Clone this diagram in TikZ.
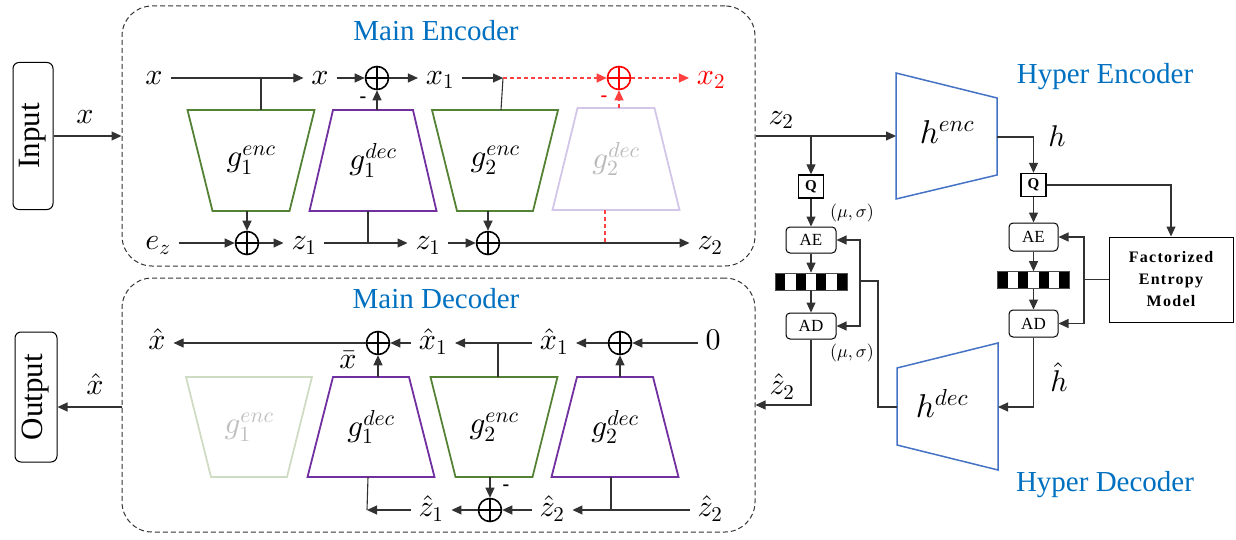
\documentclass[tikz,border=0pt]{standalone}
\usepackage{fontspec}
\setmainfont{Liberation Serif}
\DeclareFontShape{OML}{cmm}{m}{it}{<-> cmmi10}{}
\DeclareFontShape{OMS}{cmsy}{m}{n}{<-> cmsy10}{}
\DeclareFontShape{OT1}{cmr}{m}{n}{<-> cmr10}{}
\usetikzlibrary{arrows.meta}
\definecolor{cblue}{RGB}{0,112,192}
\definecolor{hblue}{RGB}{68,114,196}
\definecolor{cgreen}{RGB}{84,130,53}
\definecolor{cpurple}{RGB}{112,48,160}
\definecolor{lpurple}{RGB}{212,198,232}
\definecolor{lgreen}{RGB}{206,220,196}
\definecolor{lc}{RGB}{50,50,50}
\newcommand\mytrap[9]{%
  \draw[draw=#7, line width=1.8pt, line join=miter] ({#2-#5/2},#3) -- ({#2+#5/2},#3) -- ({#2+#6/2},#4) -- ({#2-#6/2},#4) -- cycle;
  \node[font=\fontsize{31}{34}\selectfont, text=#9, inner sep=0pt] (#1) at (#2,{(#3+#4)/2}) {#8};}
\begin{document}
\begin{tikzpicture}[x=1pt,y=-1pt,
  lbl/.style={font=\fontsize{30}{34}\selectfont, inner xsep=0pt, inner ysep=0pt, text height=22pt, text depth=9pt, outer xsep=8pt, outer ysep=0pt},
  ttl/.style={font=\fontsize{29}{32}\selectfont, text=cblue, inner sep=0pt},
  ln/.style={draw=lc, line width=1.1pt},
  arr/.style={ln, -{Triangle[length=10pt,width=9pt]}},
  rdash/.style={draw=red!75, line width=1.2pt, dash pattern=on 4pt off 3pt},
  rarr/.style={rdash, -{Triangle[length=10pt,width=9pt]}},
  opl/.style={circle, draw=#1, line width=1.6pt, minimum size=23pt, inner sep=0pt,
    path picture={\draw[#1, line width=1.6pt] (path picture bounding box.north) -- (path picture bounding box.south) (path picture bounding box.west) -- (path picture bounding box.east);}},
  opl/.default=black,
  box/.style={draw, line width=1pt, rounded corners=4pt, minimum width=50pt, minimum height=26pt, inner sep=0pt, font=\fontsize{17}{19}\selectfont},
  qbox/.style={draw, line width=1.4pt, minimum width=25pt, minimum height=23pt, inner sep=0pt, font=\bfseries\fontsize{15}{17}\selectfont},
  bar/.style={draw=black!70, line width=0.6pt, minimum width=72pt, minimum height=17pt, inner sep=0pt,
    path picture={\foreach \i in {0,2,4,6} \fill ([xshift={\i*72/7}]path picture bounding box.south west) rectangle ++(10.29pt,17pt);}},
  mainbox/.style={draw=black!80, line width=1pt, rounded corners=30pt, dash pattern=on 5pt off 3pt},
  mns/.style={font=\bfseries\fontsize{20}{20}\selectfont, inner sep=0pt},
  ms/.style={font=\fontsize{18}{21}\selectfont, inner sep=0pt},
]
\useasboundingbox (0,0) rectangle (1236,540);

% ---------- Input / Output ----------
\node[draw, line width=1pt, rounded corners=6pt, minimum width=40pt, minimum height=147pt, inner sep=0pt] (inp) at (33,136) {};
\node[rotate=90, font=\fontsize{31}{32}\selectfont, inner sep=0pt] (inpt) at (inp.center) {Input};
\node[draw, line width=1pt, rounded corners=6pt, minimum width=42pt, minimum height=130pt, inner sep=0pt] (out) at (36,397) {};
\node[rotate=90, font=\fontsize{31}{32}\selectfont, inner sep=0pt] (outt) at (out.center) {Output};

% ---------- Main boxes ----------
\node[mainbox, minimum width=633pt, minimum height=260pt] (enc) at (438.5,136) {};
\node[mainbox, minimum width=633pt, minimum height=254pt] (dec) at (438.5,405) {};
\node[ttl] (encT) at (436,31) {Main Encoder};
\node[ttl] (decT) at (436,299) {Main Decoder};

\draw[arr] (inp.east) -- (inp.east -| enc.west);
\node[lbl] (xin) at (85,117) {$x$};
\coordinate (decL) at (122,407);
\draw[arr] (decL) -- (decL -| out.east);
\node[lbl] (xout) at (95,388) {$\hat{x}$};

% ---------- Encoder ----------
\mytrap{E1}{251}{110}{211}{127}{77}{cgreen}{$g_1^{enc}$}{black}
\mytrap{E2}{373}{110}{211}{80}{127}{cpurple}{$g_1^{dec}$}{black}
\mytrap{E3}{495}{110}{211}{126}{76}{cgreen}{$g_2^{enc}$}{black}
\mytrap{E4}{616}{108}{210}{77}{127}{lpurple}{$g_2^{dec}$}{gray!55}
\coordinate (E1t) at (261,110); \coordinate (E1b) at (247,211);
\coordinate (E2t) at (377,110); \coordinate (E2b) at (368,211);
\coordinate (E3t) at (501,110); \coordinate (E3b) at (488,211);
\coordinate (E4t) at (619,108); \coordinate (E4b) at (605,210);

\node[lbl] (ex0) at (154,78) {$x$};
\node[lbl] (ex1) at (320,78) {$x$};
\node[opl] (ep1) at (377,78) {};
\node[lbl] (ex2) at (440,78) {$x_1$};
\coordinate (j1) at (503,78);
\node[opl=red] (ep2) at (619,78) {};
\node[lbl, text=red] (ex3) at (711,78) {$x_2$};
\node[mns] (mn1) at (363,100) {-};
\node[mns, text=red] (mn2) at (604,99) {-};

\node[lbl] (ez) at (158,243) {$e_z$};
\node[opl] (ep3) at (247,243) {};
\node[lbl] (ez1) at (304,243) {$z_1$};
\node[lbl] (ez2) at (428,243) {$z_1$};
\node[opl] (ep4) at (488,243) {};
\node[lbl] (ez3) at (710,243) {$z_2$};

\draw[arr] (ex0) -- (ex1);
\draw[ln] (E1t) -- (E1t |- ex0);
\draw[arr] (ex1) -- (ep1);
\draw[arr] (ep1) -- (ex2);
\draw[arr] (E2t) -- (ep1);
\draw[arr] (ex2) -- (j1);
\draw[ln] (E3t) -- (j1);
\draw[rarr] (j1) -- (ep2);
\draw[rarr] (ep2) -- (ex3);
\draw[rarr] (E4t) -- (ep2);
\draw[arr] (ez) -- (ep3);
\draw[arr] (E1b) -- (ep3);
\draw[arr] (ep3) -- (ez1);
\draw[arr] (ez1) -- (ez2);
\draw[ln] (E2b) -- (E2b |- ez1);
\draw[arr] (ez2) -- (ep4);
\draw[arr] (E3b) -- (ep4);
\draw[arr] (ep4) -- (ez3);
\draw[rdash] (E4b) -- (E4b |- ez3);

% ---------- Decoder ----------
\mytrap{D1}{249}{377}{477}{126}{76}{lgreen}{$g_1^{enc}$}{gray!50}
\mytrap{D2}{371}{377}{477}{76}{127}{cpurple}{$g_1^{dec}$}{black}
\mytrap{D3}{494}{377}{477}{127}{77}{cgreen}{$g_2^{enc}$}{black}
\mytrap{D4}{615}{377}{477}{76}{127}{cpurple}{$g_2^{dec}$}{black}
\coordinate (D2t) at (378,377); \coordinate (D2b) at (368,477);
\coordinate (D3t) at (498,377); \coordinate (D3b) at (490,477);
\coordinate (D4t) at (620,377); \coordinate (D4b) at (611,477);

\node[lbl] (dx0) at (157,343) {$\hat{x}$};
\node[opl] (dp1) at (378,343) {};
\node[lbl] (dx1) at (433,343) {$\hat{x}_1$};
\node[lbl] (dx2) at (554,343) {$\hat{x}_1$};
\node[opl] (dp2) at (620,343) {};
\node[lbl] (dzero) at (713,343) {$0$};
\node[lbl] (xbar) at (348,362) {$\bar{x}$};

\coordinate (c1) at (367,510);
\node[lbl] (dz1) at (431,510) {$\hat{z}_1$};
\node[opl] (dp3) at (490,510) {};
\node[lbl] (dz2) at (552,510) {$\hat{z}_2$};
\node[lbl] (dz3) at (710,510) {$\hat{z}_2$};
\node[mns] (mn3) at (506,488) {-};

\draw[arr] (dp1) -- (dx0);
\draw[arr] (dx1) -- (dp1);
\draw[arr] (D2t) -- (dp1);
\draw[arr] (dx2) -- (dx1);
\draw[ln] (D3t) -- (D3t |- dx1);
\draw[arr] (dp2) -- (dx2);
\draw[arr] (dzero) -- (dp2);
\draw[arr] (D4t) -- (dp2);
\draw[arr] (dz1) -- (c1);
\draw[ln] (D2b) -- (c1);
\draw[arr] (dp3) -- (dz1);
\draw[arr] (dz2) -- (dp3);
\draw[arr] (D3b) -- (dp3);
\draw[arr] (dz3) -- (dz2);
\draw[ln] (D4b) -- (D4b |- dz3);

% ---------- Hyper encoder / decoder ----------
\draw[draw=hblue, line width=1.5pt, line join=miter] (896,73) -- (997,98) -- (997,175) -- (896,199) -- cycle;
\node[font=\fontsize{33}{36}\selectfont, inner sep=0pt] (hE) at (947,132) {$h^{enc}$};
\coordinate (hEl) at (896,136); \coordinate (hEr) at (997,137);
\draw[draw=hblue, line width=1.5pt, line join=miter] (897,368) -- (998,343) -- (998,470) -- (897,445) -- cycle;
\node[font=\fontsize{33}{36}\selectfont, inner sep=0pt] (hD) at (942,403) {$h^{dec}$};
\coordinate (hDl) at (897,407); \coordinate (hDr) at (998,407);
\node[ttl] (heT) at (1105,77) {Hyper Encoder};
\node[ttl] (hdT) at (1105,485) {Hyper Decoder};

\node[qbox] (Q1) at (811,186.5) {Q};
\node[box] (AE1) at (811,240) {AE};
\node[bar] (bar1) at (811,281.5) {};
\node[box] (AD1) at (811,326) {AD};
\node[lbl] (zl) at (781,118) {$z_2$};
\node[ms] (ms1) at (852,213) {$(\mu,\sigma)$};
\node[ms] (ms2) at (852,353) {$(\mu,\sigma)$};
\node[lbl] (zh) at (782,388) {$\hat{z}_2$};

\coordinate (b1) at (811,136);
\draw[arr] (enc.east) -- (hEl);
\draw[arr] (b1) -- (Q1);
\draw[arr] (Q1) -- (AE1);
\draw[arr] (AE1) -- (bar1);
\draw[arr] (bar1) -- (AD1);
\draw[arr] (AD1.south) |- (dec.east);
\coordinate (m1) at (860,281);
\draw[ln] (hDl) -| (878,281) -- (m1);
\draw[arr] (m1) |- (AE1.east);
\draw[arr] (m1) |- (AD1.east);

\node[qbox] (Q2) at (1033.5,185) {Q};
\node[box, minimum width=49pt, minimum height=28pt] (AE2) at (1033.5,237) {AE};
\node[bar] (bar2) at (1033.5,280) {};
\node[box, minimum width=49pt, minimum height=27pt] (AD2) at (1033.5,323.5) {AD};
\node[draw, line width=1pt, minimum width=124pt, minimum height=85pt, align=center, inner sep=0pt,
  font=\bfseries\fontsize{16}{22}\selectfont\addfontfeature{LetterSpace=8}] (fem) at (1171,279.5) {Factorized\\Entropy\\Model};
\node[lbl] (hl) at (1057,140) {$h$};
\node[lbl] (hhl) at (1059,385) {$\hat{h}$};

\draw[arr] (hEr) -| (Q2.north);
\draw[arr] (Q2.east) -| (fem.north);
\draw[arr] (Q2) -- (AE2);
\draw[arr] (AE2) -- (bar2);
\draw[arr] (bar2) -- (AD2);
\coordinate (m2) at (1084,279.5);
\draw[ln] (fem.west) -- (m2);
\draw[arr] (m2) |- (AE2.east);
\draw[arr] (m2) |- (AD2.east);
\draw[arr] (AD2.south) |- (hDr);
\end{tikzpicture}
\end{document}
